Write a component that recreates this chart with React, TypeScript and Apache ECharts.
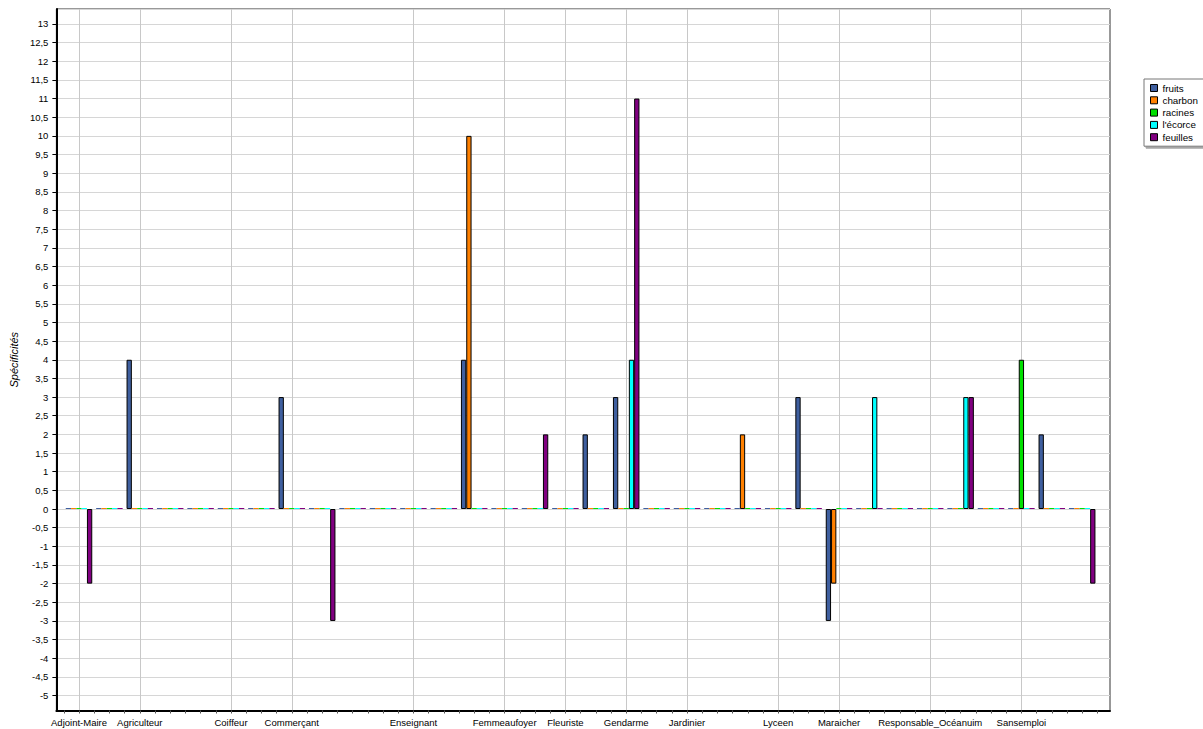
import React, { useEffect, useRef } from 'react';
import * as echarts from 'echarts';

const categories: string[] = [
  'Adjoint-Maire', '', 'Agriculteur', '', '', 'Coiffeur', '', 'Commerçant', '', '', '',
  'Enseignant', '', '', 'Femmeaufoyer', '', 'Fleuriste', '', 'Gendarme', '', 'Jardinier',
  '', '', 'Lyceen', '', 'Maraicher', '', '', 'Responsable_Océanuim', '', '', 'Sansemploi', '', '',
];

const seriesNames = ['fruits', 'charbon', 'racines', "l'écorce", 'feuilles'];
const seriesColors = ['#3F5F9F', '#FF8000', '#00E000', '#00FFFF', '#800080'];

const fruits = [0, 0, 4, 0, 0, 0, 0, 3, 0, 0, 0, 0, 0, 4, 0, 0, 0, 2, 3, 0, 0, 0, 0, 0, 3, -3, 0, 0, 0, 0, 0, 0, 2, 0];
const charbon = [0, 0, 0, 0, 0, 0, 0, 0, 0, 0, 0, 0, 0, 10, 0, 0, 0, 0, 0, 0, 0, 0, 2, 0, 0, -2, 0, 0, 0, 0, 0, 0, 0, 0];
const racines = [0, 0, 0, 0, 0, 0, 0, 0, 0, 0, 0, 0, 0, 0, 0, 0, 0, 0, 0, 0, 0, 0, 0, 0, 0, 0, 0, 0, 0, 0, 0, 4, 0, 0];
const ecorce = [0, 0, 0, 0, 0, 0, 0, 0, 0, 0, 0, 0, 0, 0, 0, 0, 0, 0, 4, 0, 0, 0, 0, 0, 0, 0, 3, 0, 0, 3, 0, 0, 0, 0];
const feuilles = [-2, 0, 0, 0, 0, 0, 0, 0, -3, 0, 0, 0, 0, 0, 0, 2, 0, 0, 11, 0, 0, 0, 0, 0, 0, 0, 0, 0, 0, 3, 0, 0, 0, -2];

const seriesValues = [fruits, charbon, racines, ecorce, feuilles];

const yMin = -5.4;
const yMax = 13.4;
const yAxisTitle = 'Spécificités';

const FONT = '"Liberation Sans", Arial, sans-serif';

export default function App() {
  const ref = useRef<HTMLDivElement>(null);

  useEffect(() => {
    if (!ref.current) return;
    const chart = echarts.init(ref.current, null, { renderer: 'svg' });

    const top = 9;
    const bottom = 18.5;
    const halfSteps = categories.length * 2;

    const option: any = {
      animation: false,
      backgroundColor: '#ffffff',
      grid: [
        { left: 52, right: 93, top, bottom, show: true, borderColor: '#333', borderWidth: 1, backgroundColor: 'transparent' },
        { left: 79, right: 120.8, top, bottom },
        { left: 63.8, right: 105.6, top, bottom },
      ],
      legend: {
        orient: 'vertical',
        left: 1144,
        top: 79,
        data: seriesNames,
        icon: 'rect',
        itemWidth: 7,
        itemHeight: 7,
        itemGap: 2.3,
        padding: [4, 6, 4, 6],
        backgroundColor: '#fff',
        borderColor: '#777',
        borderWidth: 1,
        borderRadius: 0,
        shadowColor: 'rgba(0,0,0,0.35)',
        shadowOffsetX: 2,
        shadowOffsetY: 2,
        shadowBlur: 0,
        itemStyle: { borderColor: '#000', borderWidth: 1 },
        textStyle: { fontFamily: FONT, fontSize: 9.8, color: '#000' },
        selectedMode: false,
      },
      xAxis: [
        {
          gridIndex: 0, type: 'value', min: 0, max: 1,
          axisLine: { show: true, onZero: false, lineStyle: { color: '#000', width: 2 } },
          axisTick: { show: false }, axisLabel: { show: false }, splitLine: { show: false },
        },
        {
          gridIndex: 1, type: 'category', data: categories, boundaryGap: false,
          axisLine: { show: false, onZero: false }, axisTick: { show: false },
          axisLabel: { show: true, interval: 0, margin: 7, fontFamily: FONT, fontSize: 9.5, color: '#000' },
          splitLine: {
            show: true,
            interval: (_i: number, v: string) => v !== '',
            lineStyle: { color: '#c8c8c8', width: 1 },
          },
        },
        {
          gridIndex: 2, type: 'value', min: 0, max: halfSteps, interval: 1,
          axisLine: { show: false, onZero: false },
          axisTick: { show: true, length: 3, inside: false, lineStyle: { color: '#555', width: 1 } },
          axisLabel: { show: false }, splitLine: { show: false },
        },
      ],
      yAxis: [
        {
          gridIndex: 0, type: 'value', min: yMin, max: yMax, splitNumber: 38,
          minInterval: 0.5, maxInterval: 0.5,
          name: yAxisTitle, nameLocation: 'middle', nameGap: 35, nameRotate: 90,
          nameTextStyle: { fontFamily: FONT, fontSize: 11, fontStyle: 'italic', color: '#000' },
          axisLine: { show: true, onZero: false, lineStyle: { color: '#000', width: 2 } },
          axisTick: { show: true, length: 4, lineStyle: { color: '#000' } },
          axisLabel: {
            show: true, margin: 8, fontFamily: FONT, fontSize: 9.5, color: '#000',
            showMinLabel: false, showMaxLabel: false,
            formatter: (v: number) => String(v).replace('.', ','),
          },
          splitLine: { show: true, lineStyle: { color: '#d6d6d6', width: 1 } },
        },
        { gridIndex: 1, type: 'value', min: yMin, max: yMax, show: false },
        { gridIndex: 2, type: 'value', min: 0, max: 1, show: false },
      ],
      series: seriesNames.map((name, si) => ({
        name,
        type: 'bar',
        xAxisIndex: 1,
        yAxisIndex: 1,
        barWidth: 5.3,
        barGap: '0%',
        barMinHeight: 1,
        clip: false,
        itemStyle: { color: seriesColors[si], borderColor: '#000', borderWidth: 1 },
        data: seriesValues[si].map((v) => (v === 0 ? { value: v, itemStyle: { borderWidth: 0 } } : v)),
      })),
    };

    chart.setOption(option);
    return () => chart.dispose();
  }, []);

  return (
    <div
      ref={ref}
      style={{ position: 'absolute', left: 0, top: 0, width: 1203, height: 729, background: '#fff' }}
    />
  );
}
